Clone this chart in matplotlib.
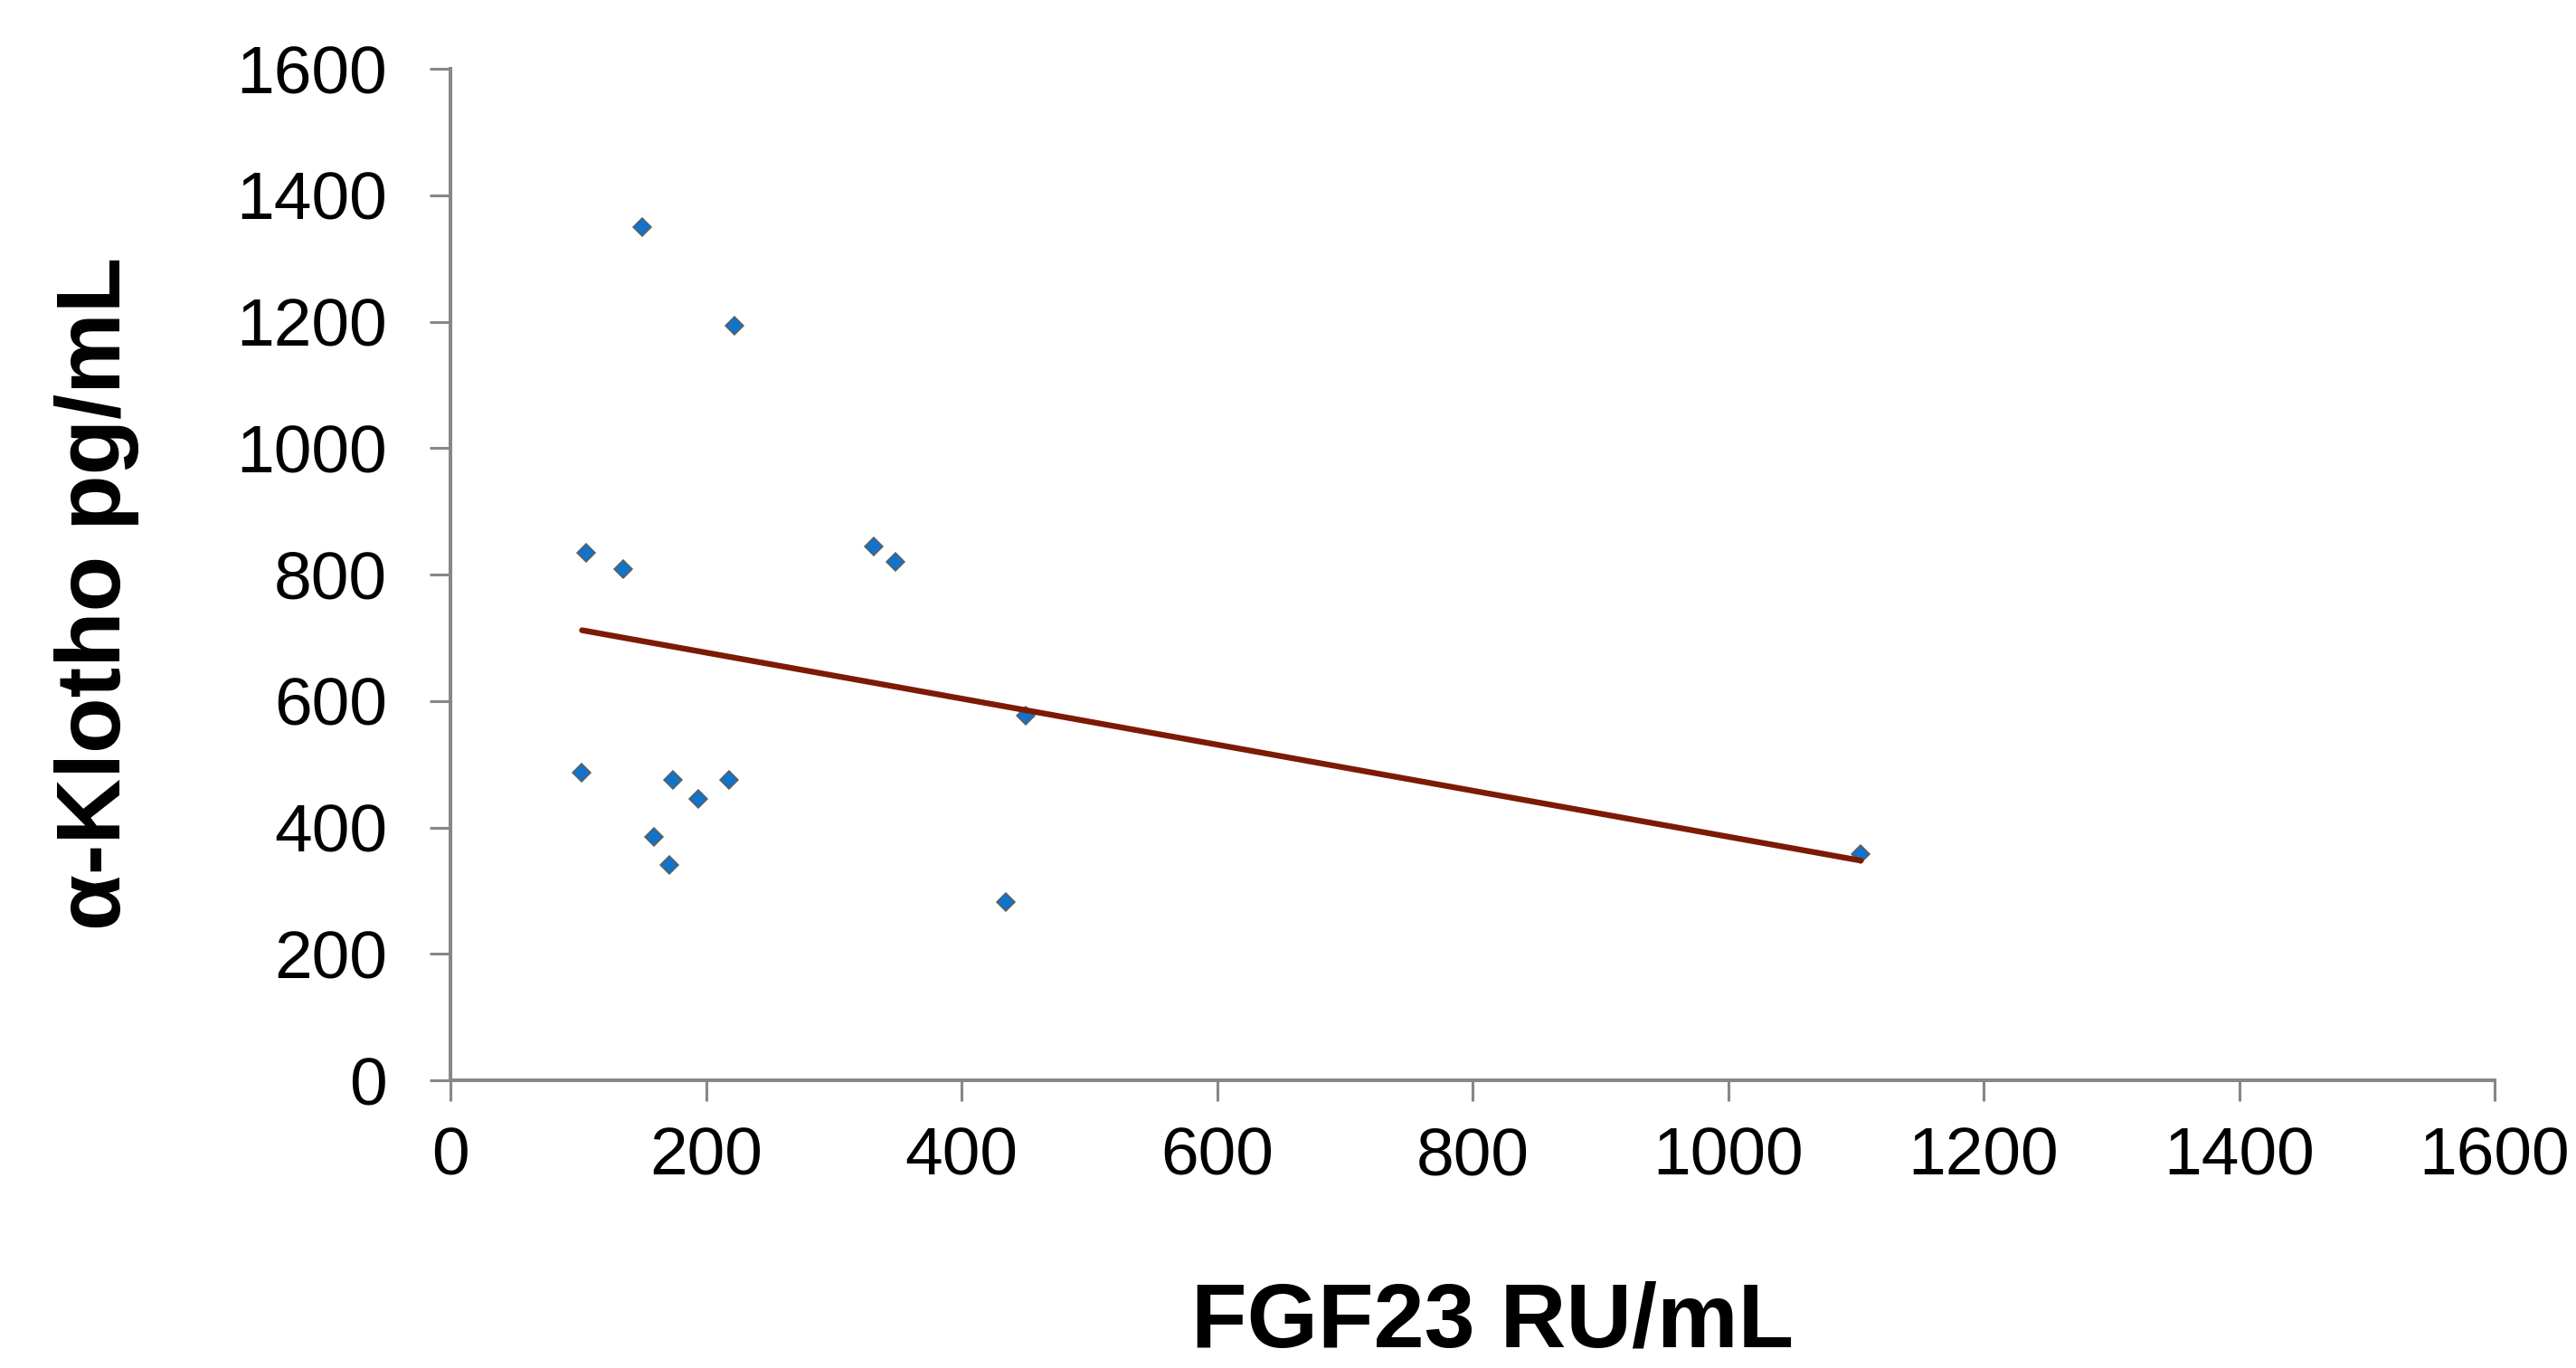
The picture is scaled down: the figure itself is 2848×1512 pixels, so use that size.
import numpy as np
import matplotlib
matplotlib.use("Agg")
import matplotlib.pyplot as plt

# FGF23 (RU/mL) vs alpha-Klotho (pg/mL)
fgf23 = [150, 222, 106, 135, 331, 348, 103, 174, 194, 218, 159, 171, 435, 450, 1104]
klotho = [1350, 1193, 835, 809, 844, 820, 487, 475, 445, 475, 385, 340, 282, 577, 358]

x_ticks = [0, 200, 400, 600, 800, 1000, 1200, 1400, 1600]
y_ticks = [0, 200, 400, 600, 800, 1000, 1200, 1400, 1600]

plt.rcParams['font.family'] = ['Liberation Sans', 'DejaVu Sans']

fig = plt.figure(figsize=(28.48, 15.12), dpi=100)
ax = fig.add_axes([498 / 2848, 1 - 1194 / 1512, (2758 - 498) / 2848, (1194 - 76) / 1512])

ax.plot(fgf23, klotho, linestyle='none', marker='D', markersize=10,
        markerfacecolor='#1273C8', markeredgecolor='#5E5E5E', markeredgewidth=1.1,
        zorder=3)

# linear trendline over the data range (least squares, as Excel does)
slope, intercept = np.polyfit(fgf23, klotho, 1)
xs = np.array([min(fgf23), max(fgf23)])
ax.plot(xs, slope * xs + intercept, color='#7D1A06', linewidth=4.6,
        solid_capstyle='round', zorder=4)

ax.set_xlim(0, 1600)
ax.set_ylim(0, 1600)
ax.set_xticks(x_ticks)
ax.set_yticks(y_ticks)
ax.set_xticklabels([str(t) for t in x_ticks])
ax.set_yticklabels([str(t) for t in y_ticks])

for side in ['top', 'right']:
    ax.spines[side].set_visible(False)
for side in ['left', 'bottom']:
    ax.spines[side].set_color('#878787')
    ax.spines[side].set_linewidth(2.9)

ax.tick_params(axis='both', direction='out', length=16.5, width=2.2,
               color='#878787', labelsize=54, labelcolor='black')
ax.tick_params(axis='x', pad=20)
ax.tick_params(axis='y', pad=34)

fig.text(107 / 2848, 1 - 656 / 1512, 'α-Klotho pg/mL', rotation=90,
         ha='center', va='center', fontsize=72.5, fontweight='bold')
fig.text(1650 / 2848, 1 - 1489 / 1512, 'FGF23 RU/mL', ha='center',
         va='baseline', fontsize=72.5, fontweight='bold')

fig.savefig('out.png', dpi=100, facecolor='white')
